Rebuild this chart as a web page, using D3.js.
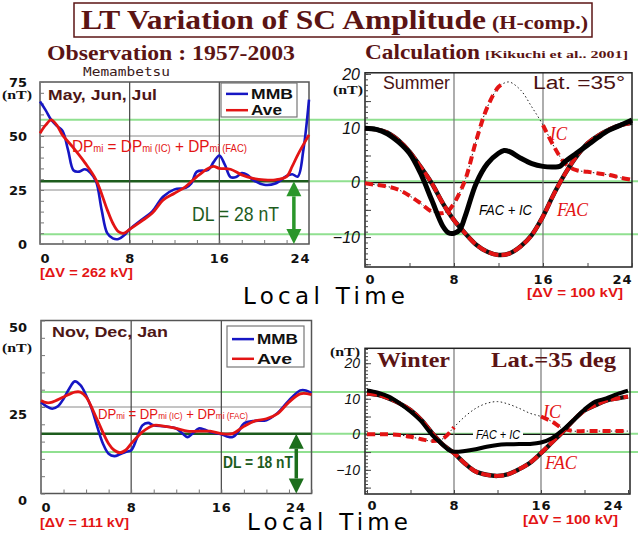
<!DOCTYPE html>
<html><head><meta charset="utf-8">
<script src="https://cdn.jsdelivr.net/npm/d3@7"></script>
<style>body{margin:0;background:#fff}svg{display:block}</style>
</head><body><svg id="c" width="638" height="534"></svg>
<script>
// ---------------- DATA ----------------
const hourTicks = [0, 8, 16, 24];
const summerObsYTicks = [0, 25, 50, 75];
const winterObsYTicks = [0, 25, 50];
const calcYTicks = [-10, 0, 10, 20];

// Observation, May-Jun-Jul (Memambetsu)
const sumMMBHours = [0,0.5,1,1.5,2,2.5,3,3.5,4,4.5,5,5.5,6,6.5,7,7.5,8,9,10,11,12,13,13.5,14,15,15.5,16,16.5,17,17.5,18,18.5,19,20,21,22,22.5,23,23.5,24];
const sumMMB      = [66,62,57.5,54.7,52.5,43.6,34,33.5,34.6,33,29,15.8,5,2.6,2.3,4,6.8,11,15,22,25.3,26,28,33.5,34.3,38,41,36.6,31,31,32.8,32,29.7,27.4,28,31.5,32.3,31.2,43.6,66.8];
const sumAveHours = [0,0.5,1,1.5,2,3,4,5,6,6.5,7,7.5,8,9,10,11,12,13,14,15,15.5,16,17,18,19,20,21,22,22.5,23,24];
const sumAve      = [51.3,55,57.5,55,50.5,44.4,37.7,29.7,15.8,9.6,5.7,5,6.8,10.4,14.2,20.4,23.5,26.6,31.2,35,35.9,35,34.6,32,30.4,29.7,29.7,31.2,35.9,41.3,50.5];
const sumRefLines = [57.5, 29, 4.5];
const sumDL = 28;

// Observation, Nov-Dec-Jan
const winMMBHours = [0,0.5,1,1.5,2,2.5,3,3.5,4,4.5,5,5.5,6,6.5,7,7.5,8,8.5,9,9.5,10,11,12,12.5,13,13.5,14,14.5,15,16,16.5,17,17.5,18,19,20,21,22,23,23.5,24];
const winMMB      = [26.4,25.2,24.5,25.2,27.4,30.3,32.4,31.3,28.4,24.5,19.2,14.4,11.5,10.8,11.3,12,12.5,15.9,19.7,20.4,19.7,19.4,18.8,17.5,16.3,17.5,18.8,18.5,17.8,17.1,16.5,16.3,17.8,20.2,21,21.2,23.3,26.9,29.8,29.8,29];
const winAveHours = [0,0.5,1,2,3,3.5,4,5,6,6.5,7,7.5,8,9,10,11,12,13,14,15,16,17,18,19,20,21,22,23,24];
const winAve      = [26.9,26.25,26.4,27.9,29.3,29.3,27.9,21.2,14.4,12.5,11.8,12.5,14.4,17.8,19.7,19.4,18.8,18,18,18,17.3,17.3,19.4,21,21.6,23.1,26.4,28.8,28.6];
const winRefLines = [29.3, 17.3, 12];
const winDL = 18;

// Calculation, Summer
const calcSumTotHours = [0,1,2,3,4,5,6,7,7.5,8,8.5,9,10,11,12,12.5,13,14,15,16,17,17.5,18,19,20,21,22,23,24];
const calcSumTot      = [10,9.8,9,7.5,5.4,1.7,-3.2,-8,-9.2,-9.3,-8.7,-6.2,-0.1,3.5,5.4,5.9,5.7,4.5,3.5,3,2.9,3,3.9,5.4,6.9,8.4,9.7,10.6,11.5];
const calcSumFACHours = [0,1,2,3,4,5,6,7,8,9,10,11,12,13,14,15,16,17,18,19,20,21,22,23,24];
const calcSumFAC      = [10,9.8,9.2,7.8,5.7,2.9,-0.1,-3.8,-6.9,-9.3,-11.4,-12.7,-13.3,-13,-11.7,-9.6,-6.2,-2,1.7,4.8,7.2,8.7,9.8,10.6,11];
const calcSumICHours  = [0,1,2,3,4,5,6,7,7.5,8,9,10,11,12,12.5,13,14,15,16,17,18,19,20,21,22,23,24];
const calcSumIC       = [-0.1,-0.4,-0.7,-1.3,-2.4,-3.8,-5.3,-5.6,-5.1,-3.8,0.5,7.8,13.9,17.6,18.3,18.5,17,13.9,10.6,6.6,3.5,2.3,2,1.7,1.4,0.9,0.5];

// Calculation, Winter
const calcWinTotHours = [0,1,2,3,4,5,6,7,7.5,8,9,10,11,12,13,14,15,16,17,18,19,20,21,22,23,24];
const calcWinTot      = [12.3,11.7,10.6,8.7,6.4,3.6,-0.2,-3,-4.4,-4.9,-4.7,-4.2,-3.5,-3,-2.8,-2.7,-2.7,-2.3,-1.1,1.2,4,7,9.2,10.1,11.3,12.3];
const calcWinFACHours = [0,1,2,3,4,5,6,7,8,9,10,11,12,13,14,15,16,17,18,19,20,21,22,23,24];
const calcWinFAC      = [11.5,11.1,10.1,8.7,6.8,4,0.3,-3,-5.3,-8.2,-10.5,-11.4,-11.7,-11.2,-9.8,-8,-5.3,-2.3,0.7,4,6.7,8.2,9.5,10.1,10.6];
const calcWinICHours  = [0,1,2,3,4,5,6,7,8,9,10,11,12,13,14,15,16,17,18,19,20,21,22,23,24];
const calcWinIC       = [0,0,0,-0.2,-0.7,-1.4,-1.9,-1.2,2,5,7.3,8.7,9.2,8.5,7.3,5.9,5,3.6,1.7,0.9,0.9,0.9,0.9,0.9,0.9];

// ---------------- DRAWING ----------------
const svg = d3.select("#c");
const DARK = "#5b1414", RED = "#e31414", BLUE = "#1616c4", LG = "#90e090", DG = "#1d5c1d", AG = "#2a962a";
const SERIF = "'Liberation Serif', serif", SANS = "'Liberation Sans', Arial, sans-serif", WIDE = "'DejaVu Sans', sans-serif";

function T(sel, x, y, s, o = {}) {
  const t = sel.append("text").attr("x", x).attr("y", y).text(s)
    .attr("font-family", o.f || SANS).attr("font-size", o.s || 12)
    .attr("font-weight", o.w || "normal").attr("fill", o.c || "#000");
  if (o.i) t.attr("font-style", "italic");
  if (o.a) t.attr("text-anchor", o.a);
  if (o.len) t.attr("textLength", o.len).attr("lengthAdjust", o.adj || "spacingAndGlyphs");
  return t;
}
const pts = (hs, vs) => hs.map((h, i) => [h, vs[i]]);
function curve(g, x, y, hs, vs, st, range) {
  let d = pts(hs, vs);
  if (range) d = d.filter(p => p[0] >= range[0] && p[0] <= range[1]);
  const line = d3.line().x(p => x(p[0])).y(p => y(p[1])).curve(d3.curveCatmullRom.alpha(0.5));
  const p = g.append("path").datum(d).attr("d", line).attr("fill", "none")
    .attr("stroke", st.c).attr("stroke-width", st.w).attr("stroke-linejoin", "round");
  if (st.dash) p.attr("stroke-dasharray", st.dash);
  return p;
}
function edgeAnchors(a, last) {
  a.selectAll(".tick text").attr("text-anchor", d => d === 0 ? "start" : d === 24 ? "end" : "middle")
    .attr("dx", d => d === 24 ? last : 0);
}

// Title
svg.append("rect").attr("x", 74).attr("y", 3).attr("width", 518).attr("height", 34)
  .attr("fill", "none").attr("stroke", DARK).attr("stroke-width", 1.5);
T(svg, 81, 29, "LT Variation of SC Amplitude", {f: SERIF, s: 27, w: "bold", c: DARK, len: 405});
T(svg, 492, 29, "(H-comp.)", {f: SERIF, s: 19, w: "bold", c: DARK, len: 96});
T(svg, 47, 60, "Observation : 1957-2003", {f: SERIF, s: 20, w: "bold", c: DARK, len: 248});
T(svg, 365, 59, "Calculation", {f: SERIF, s: 20, w: "bold", c: DARK, len: 115});
T(svg, 485, 58, "[Kikuchi et al.. 2001]", {f: SERIF, s: 11, w: "bold", c: DARK, len: 143});
T(svg, 83, 76, "Memambetsu", {f: "'DejaVu Sans Mono', monospace", s: 13, c: "#3a1a1a", len: 87});
T(svg, 243, 303.5, "Local Time", {f: WIDE, s: 23, len: 162, adj: "spacing"});
T(svg, 247, 530, "Local Time", {f: WIDE, s: 23, len: 161, adj: "spacing"});

// ---------- Observation panels ----------
function obsPanel(cfg) {
  const g = svg.append("g");
  const x = d3.scaleLinear([0, 24], cfg.xr);
  const y = d3.scaleLinear([0, cfg.ymax], cfg.yr);
  const [x0, x1] = cfg.xr, [yb, yt] = cfg.yr;
  cfg.refs.forEach((v, i) => {
    if (i === 1) {
      g.append("line").attr("x1", x1).attr("x2", 638).attr("y1", y(v)).attr("y2", y(v)).attr("stroke", LG).attr("stroke-width", 2);
      g.append("line").attr("x1", x0).attr("x2", x1).attr("y1", y(v)).attr("y2", y(v)).attr("stroke", DG).attr("stroke-width", 2.5);
    } else {
      g.append("line").attr("x1", x0).attr("x2", 638).attr("y1", y(v)).attr("y2", y(v)).attr("stroke", LG).attr("stroke-width", 2);
    }
  });
  cfg.hgrid.forEach(v => g.append("line").attr("x1", x0).attr("x2", x1).attr("y1", y(v)).attr("y2", y(v)).attr("stroke", "#8a8a8a").attr("stroke-width", 1));
  [8, 16].forEach(h => g.append("line").attr("x1", x(h)).attr("x2", x(h)).attr("y1", yt).attr("y2", yb).attr("stroke", "#444").attr("stroke-width", 1.2));
  g.append("rect").attr("x", x0).attr("y", yt).attr("width", x1 - x0).attr("height", yb - yt).attr("fill", "none").attr("stroke", "#555").attr("stroke-width", 1.5);
  g.append("g").attr("transform", `translate(${x0},0)`).call(d3.axisLeft(y).tickValues(d3.range(0, cfg.ymax + 1, 5)).tickSize(-4).tickFormat(""))
    .call(a => { a.select(".domain").remove(); a.selectAll("line").attr("stroke", "#777"); });
  g.append("g").attr("transform", `translate(0,${yb})`).call(d3.axisBottom(x).tickValues(d3.range(0, 25, 2)).tickSize(-4).tickFormat(""))
    .call(a => { a.select(".domain").remove(); a.selectAll("line").attr("stroke", "#777"); });
  g.append("g").attr("transform", `translate(${x0},0)`).call(d3.axisLeft(y).tickValues(cfg.yticks).tickSize(0).tickPadding(cfg.ypad))
    .call(a => { a.select(".domain").remove(); a.selectAll("text").attr("font-family", WIDE).attr("font-weight", "bold").attr("font-size", 13).attr("fill", "#111").attr("dy", cfg.ydy); });
  g.append("g").attr("transform", `translate(0,${yb})`).call(d3.axisBottom(x).tickValues(hourTicks).tickSize(0).tickPadding(cfg.xpad))
    .call(a => { a.select(".domain").remove(); a.selectAll("text").attr("font-family", WIDE).attr("font-weight", "bold").attr("font-size", 13).attr("fill", "#111").attr("letter-spacing", 1); edgeAnchors(a, cfg.lastDx); });
  T(g, 17, cfg.nTy, "(nT)", {f: SERIF, s: 13, w: "bold", a: "middle", c: "#111", len: 30});
  T(g, cfg.season[1], cfg.season[2], cfg.season[0], {s: cfg.season[4], w: "bold", c: "#4d1616", len: cfg.season[3]});
  const dp = g.append("text").attr("x", cfg.dp[0]).attr("y", cfg.dp[1]).attr("fill", RED).attr("font-family", SANS)
    .attr("font-size", cfg.dp[3]).attr("textLength", cfg.dp[2]).attr("lengthAdjust", "spacingAndGlyphs");
  const sub = cfg.dp[3] * 0.62;
  [["DP", null], ["mi", sub], [" = DP", null], ["mi", sub], [" (IC)", sub], [" + DP", null], ["mi", sub], [" (FAC)", sub]]
    .forEach(([s, fs]) => { const t = dp.append("tspan").text(s); if (fs) t.attr("font-size", fs); });
  curve(g, x, y, cfg.mmbH, cfg.mmb, {c: BLUE, w: 2.6});
  curve(g, x, y, cfg.aveH, cfg.ave, {c: RED, w: 2.8});
  const L = cfg.leg;
  g.append("rect").attr("x", L[0]).attr("y", L[1]).attr("width", L[2]).attr("height", L[3]).attr("fill", "#fff").attr("stroke", "#777").attr("stroke-width", 1.2);
  const ly1 = L[1] + L[3] * 0.32, ly2 = L[1] + L[3] * 0.8;
  g.append("line").attr("x1", L[0] + 5).attr("x2", L[0] + 27).attr("y1", ly1).attr("y2", ly1).attr("stroke", BLUE).attr("stroke-width", 2.5);
  g.append("line").attr("x1", L[0] + 5).attr("x2", L[0] + 27).attr("y1", ly2).attr("y2", ly2).attr("stroke", RED).attr("stroke-width", 2.5);
  T(g, L[0] + 30, ly1 + 5, "MMB", {s: L[4], w: "bold", c: "#111", len: L[5]});
  T(g, L[0] + 30, ly2 + 5, "Ave", {s: L[4], w: "bold", c: "#111", len: L[6]});
  const ax = x(22.65), ya = y(cfg.refs[1]), yz = y(0), hw = 7.5, hh = 15;
  g.append("line").attr("x1", ax).attr("x2", ax).attr("y1", ya + hh).attr("y2", yz - hh).attr("stroke", cfg.arrowC).attr("stroke-width", 3.5);
  g.append("path").attr("d", `M${ax},${ya}L${ax - hw},${ya + hh}L${ax + hw},${ya + hh}Z`).attr("fill", cfg.arrowC);
  g.append("path").attr("d", `M${ax},${yz}L${ax - hw},${yz - hh}L${ax + hw},${yz - hh}Z`).attr("fill", cfg.arrowC);
  T(g, cfg.dl[0], cfg.dl[1], `DL = ${cfg.dlv} nT`, {s: cfg.dl[3], w: cfg.dl[4], c: DG, len: cfg.dl[2]});
  T(g, 40, cfg.dv[1], cfg.dv[0], {s: 12, w: "bold", c: RED, len: cfg.dv[2]});
}

obsPanel({
  xr: [40, 309], yr: [244, 82], ymax: 75, yticks: summerObsYTicks, ypad: 13, ydy: "0.32em", xpad: 9.5, nTy: 99, lastDx: 1,
  refs: sumRefLines, hgrid: [25, 50], dlv: sumDL,
  mmbH: sumMMBHours, mmb: sumMMB, aveH: sumAveHours, ave: sumAve,
  season: ["May, Jun, Jul", 48, 100, 109, 14],
  dp: [72, 152, 175, 17],
  leg: [221, 83, 76, 34, 14, 42, 31],
  arrowC: AG, dl: [192, 221, 87, 21, "normal"],
  dv: ["[\u0394V = 262 kV]", 277, 93]
});
obsPanel({
  xr: [41, 311.5], yr: [493.5, 320.5], ymax: 50, yticks: winterObsYTicks, ypad: 14, ydy: "0.85em", xpad: 9, nTy: 352, lastDx: -6,
  refs: winRefLines, hgrid: [25], dlv: winDL,
  mmbH: winMMBHours, mmb: winMMB, aveH: winAveHours, ave: winAve,
  season: ["Nov, Dec, Jan", 52, 337, 116, 15],
  dp: [98, 419, 150, 14],
  leg: [227, 326, 77, 41, 15, 41, 35],
  arrowC: "#1c6e1c", dl: [223, 468, 70, 16, "bold"],
  dv: ["[\u0394V = 111 kV]", 527, 89]
});

// ---------- Calculation panels ----------
function calcPanel(cfg) {
  const g = svg.append("g");
  const x = d3.scaleLinear([0, 24], cfg.xr);
  const y = d3.scaleLinear(cfg.yd, cfg.yr);
  const [bx0, bx1] = cfg.box, [yb, yt] = cfg.yr;
  g.append("line").attr("x1", bx0).attr("x2", bx1).attr("y1", y(0)).attr("y2", y(0)).attr("stroke", "#111").attr("stroke-width", 1.2);
  [8, 16].forEach(h => g.append("line").attr("x1", x(h)).attr("x2", x(h)).attr("y1", yt).attr("y2", yb).attr("stroke", "#777").attr("stroke-width", 1.2));
  g.append("rect").attr("x", bx0).attr("y", yt).attr("width", bx1 - bx0).attr("height", yb - yt).attr("fill", "none").attr("stroke", "#222").attr("stroke-width", 1.5);
  const lo = Math.ceil(cfg.yd[0]), hi = Math.floor(cfg.yd[1]);
  g.append("g").attr("transform", `translate(${bx0},0)`).call(d3.axisLeft(y).tickValues(d3.range(lo, hi + 1)).tickSize(-3).tickFormat(""))
    .call(a => { a.select(".domain").remove(); a.selectAll("line").attr("stroke", "#444"); });
  g.append("g").attr("transform", `translate(${bx0},0)`).call(d3.axisLeft(y).tickValues(d3.range(Math.ceil(lo / 5) * 5, hi + 1, 5)).tickSize(-6).tickFormat(""))
    .call(a => { a.select(".domain").remove(); a.selectAll("line").attr("stroke", "#444"); });
  g.append("g").attr("transform", `translate(0,${yb})`).call(d3.axisBottom(x).tickValues(d3.range(0, 25, 4)).tickSize(-4).tickFormat(""))
    .call(a => { a.select(".domain").remove(); a.selectAll("line").attr("stroke", "#444"); });
  g.append("g").attr("transform", `translate(${bx0},0)`).call(d3.axisLeft(y).tickValues(calcYTicks).tickSize(0).tickPadding(5))
    .call(a => { a.select(".domain").remove(); a.selectAll("text").attr("font-family", SANS).attr("font-style", "italic").attr("font-size", cfg.yfs).attr("fill", "#111"); });
  g.append("g").attr("transform", `translate(0,${yb})`).call(d3.axisBottom(x).tickValues(hourTicks).tickSize(0).tickPadding(cfg.xpad))
    .call(a => { a.select(".domain").remove(); a.selectAll("text").attr("font-family", WIDE).attr("font-weight", "bold").attr("font-size", 13).attr("fill", "#111").attr("letter-spacing", 1); edgeAnchors(a, cfg.lastDx); });
  T(g, cfg.nT[0], cfg.nT[1], "(nT)", {f: SERIF, s: 13, w: "bold", c: "#111", len: 30});
  curve(g, x, y, cfg.icH, cfg.ic, {c: "#222", w: 1, dash: "1.5,2.5"});
  cfg.icRed.forEach(r => curve(g, x, y, cfg.icH, cfg.ic, {c: RED, w: 4, dash: "8,5"}, r));
  curve(g, x, y, cfg.facH, cfg.fac, {c: "#111", w: 4.5});
  curve(g, x, y, cfg.facH, cfg.fac, {c: RED, w: 4, dash: "10,3"});
  curve(g, x, y, cfg.totH, cfg.tot, {c: "#000", w: cfg.totW});
  cfg.texts.forEach(t => {
    if (t.bg) g.append("rect").attr("x", t.x - 3).attr("y", t.y - t.s * 0.85).attr("width", t.len + 6).attr("height", t.s * 1.05).attr("fill", "#fff");
    T(g, t.x, t.y, t.t, t);
  });
}

calcPanel({
  xr: [365, 632], box: [365, 632], yd: [-15.5, 20.2], yr: [267, 72.8], yfs: 16, xpad: 7.5, nT: [333, 94], lastDx: 0, totW: 5,
  totH: calcSumTotHours, tot: calcSumTot, facH: calcSumFACHours, fac: calcSumFAC, icH: calcSumICHours, ic: calcSumIC,
  icRed: [[0, 12.5], [16, 24]],
  texts: [
    {x: 383, y: 89, t: "Summer", s: 18, c: "#4a1212", len: 67},
    {x: 533, y: 89, t: "Lat. =35\u00b0", s: 18, c: "#4a1212", len: 92},
    {x: 550, y: 140, t: "IC", f: SERIF, s: 18, i: true, c: RED, len: 17},
    {x: 557, y: 216, t: "FAC", f: SERIF, s: 18, i: true, c: RED, len: 31},
    {x: 479, y: 215, t: "FAC + IC", s: 14, i: true, c: "#000", len: 53},
    {x: 527, y: 297, t: "[\u0394V = 100 kV]", s: 12, w: "bold", c: RED, len: 96}
  ]
});
calcPanel({
  xr: [367, 628], box: [365, 630], yd: [-16.8, 24.2], yr: [494, 348.3], yfs: 14, xpad: 7, nT: [330, 356], lastDx: -5, totW: 4,
  totH: calcWinTotHours, tot: calcWinTot, facH: calcWinFACHours, fac: calcWinFAC, icH: calcWinICHours, ic: calcWinIC,
  icRed: [[0, 8.5], [15.5, 24]],
  texts: [
    {x: 377, y: 367, t: "Winter", f: SERIF, s: 20, w: "bold", c: DARK, len: 73},
    {x: 491, y: 367, t: "Lat.=35 deg", f: SERIF, s: 20, w: "bold", c: DARK, len: 125},
    {x: 543, y: 418, t: "IC", f: SERIF, s: 18, i: true, c: RED, len: 18},
    {x: 545, y: 469, t: "FAC", f: SERIF, s: 18, i: true, c: RED, len: 32},
    {x: 476, y: 439, t: "FAC + IC", s: 12, i: true, c: "#000", len: 44, bg: true},
    {x: 523, y: 524, t: "[\u0394V = 100 kV]", s: 12, w: "bold", c: RED, len: 95}
  ]
});
</script>
</body></html>
